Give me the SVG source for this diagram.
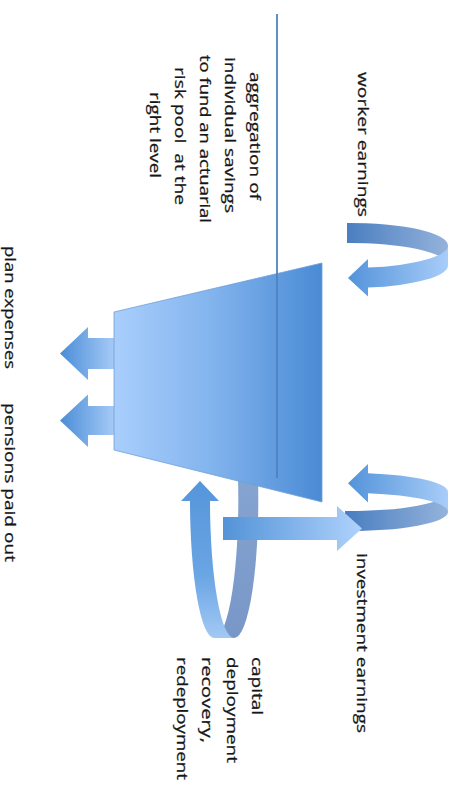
<svg xmlns="http://www.w3.org/2000/svg" width="461" height="786" viewBox="0 0 461 786">
  <style>
    .lbl { font-family: "Open Sans", "Liberation Sans", sans-serif; font-size: 14px; fill: #161616; stroke: #161616; stroke-width: 0.25; white-space: pre; }
    .edge { stroke: #6f9fd8; stroke-width: 0.8; }
  </style>
  <defs>
    <linearGradient id="gTrap" gradientUnits="userSpaceOnUse" x1="114" y1="0" x2="322" y2="0">
      <stop offset="0" stop-color="#a9cefc"/>
      <stop offset="0.45" stop-color="#84b5ee"/>
      <stop offset="1" stop-color="#4a8bd5"/>
    </linearGradient>
    <linearGradient id="gOut" gradientUnits="userSpaceOnUse" x1="60" y1="0" x2="116" y2="0">
      <stop offset="0" stop-color="#4a8dd7"/>
      <stop offset="1" stop-color="#a9ccf8"/>
    </linearGradient>
    <linearGradient id="gBackTop" gradientUnits="userSpaceOnUse" x1="347" y1="0" x2="450" y2="0">
      <stop offset="0" stop-color="#4a7ec0"/>
      <stop offset="1" stop-color="#96b4dc"/>
    </linearGradient>
    <linearGradient id="gFront" gradientUnits="userSpaceOnUse" x1="348" y1="0" x2="450" y2="0">
      <stop offset="0" stop-color="#5393da"/>
      <stop offset="1" stop-color="#aacef9"/>
    </linearGradient>
    <linearGradient id="gShaft" gradientUnits="userSpaceOnUse" x1="223" y1="0" x2="362" y2="0">
      <stop offset="0" stop-color="#5393d8"/>
      <stop offset="1" stop-color="#afd2fc"/>
    </linearGradient>
    <linearGradient id="gLoopFront" gradientUnits="userSpaceOnUse" x1="0" y1="481" x2="0" y2="638">
      <stop offset="0" stop-color="#5595da"/>
      <stop offset="0.6" stop-color="#6aa5e4"/>
      <stop offset="1" stop-color="#a3c9f4"/>
    </linearGradient>
    <linearGradient id="gLoopBack" gradientUnits="userSpaceOnUse" x1="0" y1="478" x2="0" y2="638">
      <stop offset="0" stop-color="#86a4d0"/>
      <stop offset="1" stop-color="#7897c8"/>
    </linearGradient>
  </defs>

  <!-- capital deployment loop -->
  <g id="capital-loop">
    <path d="M 238 478 A 24 138 0 0 1 214 638 L 234 638 A 24 138 0 0 0 258 478 Z" fill="url(#gLoopBack)"/>
    <path d="M 190 501 A 24 138 0 0 0 214 638 L 234 638 A 24 138 0 0 1 210 501 L 219 501 L 200 481 L 181 501 Z" fill="url(#gLoopFront)"/>
  </g>

  <!-- outflows: plan expenses and pensions -->
  <g id="outflow-expenses">
    <path d="M 116 338 L 88 338 L 88 327 L 60 353.5 L 88 380 L 88 369 L 116 369 Z" fill="url(#gOut)"/>
  </g>
  <g id="outflow-pensions">
    <path d="M 116 406 L 88 406 L 88 394.5 L 60 420.5 L 88 447 L 88 435 L 116 435 Z" fill="url(#gOut)"/>
  </g>

  <!-- the pooled fund -->
  <g id="fund">
    <polygon points="114,312 322,263 322,502 114,450" fill="url(#gTrap)" class="edge"/>
  </g>

  <!-- divider between individual and pooled side -->
  <g id="connectors">
    <line x1="277" y1="14" x2="277" y2="478" stroke="#4f82c2" stroke-width="1.8"/>
  </g>

  <!-- worker earnings inflow ribbon -->
  <g id="worker-earnings">
    <path d="M 347 223 A 98 22.5 0 0 1 448 245.5 L 448 265.5 A 98 22.5 0 0 0 347 243 Z" fill="url(#gBackTop)"/>
    <path d="M 448 245.5 A 98 22.5 0 0 1 368 267.6 L 368 259 L 348 278 L 368 296.5 L 368 287.6 A 98 22.5 0 0 0 448 265.5 Z" fill="url(#gFront)"/>
  </g>

  <!-- investment earnings ribbon -->
  <g id="investment-earnings">
    <path d="M 448 492 A 98 19 0 0 1 345 511 L 345 531 A 98 19 0 0 0 448 512 Z" fill="url(#gBackTop)"/>
    <path d="M 368 473.3 A 98 19 0 0 1 448 492 L 448 512 A 98 19 0 0 0 368 493.3 L 368 502.5 L 348 483.3 L 368 464 Z" fill="url(#gFront)"/>
  </g>

  <!-- capital sent out to investments -->
  <g id="capital-out">
    <path d="M 223 517 L 337 517 L 337 506 L 362 528.5 L 337 551 L 337 540 L 223 540 Z" fill="url(#gShaft)"/>
  </g>

  <!-- labels, set vertically -->
  <g id="labels">
    <text class="lbl" transform="translate(358 72) rotate(90)" textLength="145" lengthAdjust="spacingAndGlyphs">worker earnings</text>
    <text class="lbl" transform="translate(250 72) rotate(90)" textLength="128" lengthAdjust="spacingAndGlyphs">aggregation of</text>
    <text class="lbl" transform="translate(225 57) rotate(90)" textLength="156" lengthAdjust="spacingAndGlyphs">individual savings</text>
    <text class="lbl" transform="translate(200 55) rotate(90)" textLength="168" lengthAdjust="spacingAndGlyphs">to fund an actuarial</text>
    <text class="lbl" transform="translate(175 67) rotate(90)" textLength="138" lengthAdjust="spacingAndGlyphs">risk pool  at the</text>
    <text class="lbl" transform="translate(150 92) rotate(90)" textLength="86" lengthAdjust="spacingAndGlyphs">right level</text>
    <text class="lbl" transform="translate(5 246) rotate(90)" textLength="123" lengthAdjust="spacingAndGlyphs">plan expenses</text>
    <text class="lbl" transform="translate(5 403) rotate(90)" textLength="159" lengthAdjust="spacingAndGlyphs">pensions paid out</text>
    <text class="lbl" transform="translate(357 553) rotate(90)" textLength="180" lengthAdjust="spacingAndGlyphs">investment earnings</text>
    <text class="lbl" transform="translate(252 657) rotate(90)" textLength="58" lengthAdjust="spacingAndGlyphs">capital</text>
    <text class="lbl" transform="translate(227 657) rotate(90)" textLength="106" lengthAdjust="spacingAndGlyphs">deployment</text>
    <text class="lbl" transform="translate(202 657) rotate(90)" textLength="86" lengthAdjust="spacingAndGlyphs">recovery,</text>
    <text class="lbl" transform="translate(177 657) rotate(90)" textLength="123" lengthAdjust="spacingAndGlyphs">redeployment</text>
  </g>
</svg>
